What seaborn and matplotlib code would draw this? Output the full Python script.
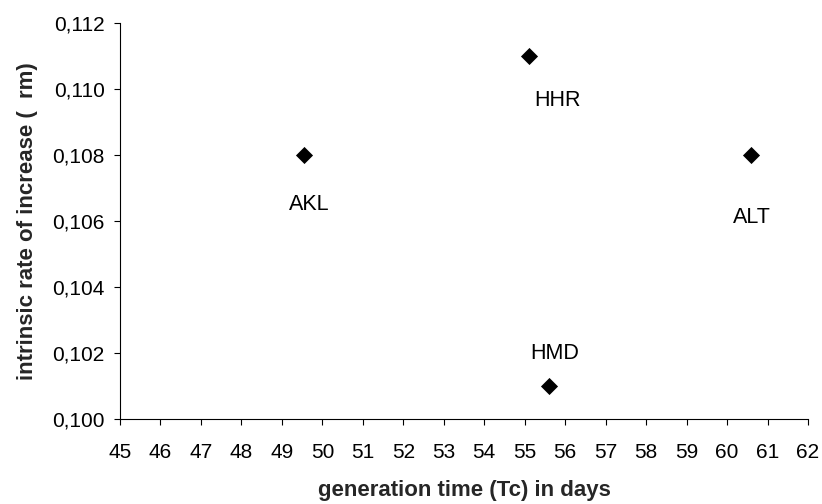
import matplotlib
matplotlib.use("Agg")
import matplotlib.pyplot as plt
import seaborn as sns
import pandas as pd
from matplotlib.ticker import FuncFormatter

populations = ["AKL", "HHR", "ALT", "HMD"]
generation_time = [49.55, 55.1, 60.6, 55.6]
rm = [0.108, 0.111, 0.108, 0.101]
x_ticks = list(range(45, 63))
y_ticks = [0.100, 0.102, 0.104, 0.106, 0.108, 0.110, 0.112]

sns.set_style("ticks")
plt.rcParams["font.family"] = ["Liberation Sans", "DejaVu Sans"]

df = pd.DataFrame({"pop": populations, "Tc": generation_time, "rm": rm})

fig = plt.figure(figsize=(8.22, 5.04), dpi=100)
ax = fig.add_axes([0.1460, 0.1687, 0.8370, 0.7853])

sns.scatterplot(data=df, x="Tc", y="rm", marker="D", s=76, color="black",
                linewidth=0, ax=ax, legend=False)

# label offsets in points (as placed in the reference), baseline anchored
offsets = {"AKL": (4, -39.5), "HHR": (21, -36), "ALT": (0.5, -49), "HMD": (4.3, 19.5)}
for p, x, y in zip(populations, generation_time, rm):
    dx, dy = offsets[p]
    ax.annotate(p, (x, y), xytext=(dx, dy), textcoords="offset points",
                ha="center", va="baseline", fontsize=15.5, color="black")

ax.set_xlim(45, 62)
ax.set_ylim(0.100, 0.112)
ax.set_xticks(x_ticks)
ax.set_yticks(y_ticks)
ax.yaxis.set_major_formatter(FuncFormatter(lambda v, _: f"{v:.3f}".replace(".", ",")))
ax.tick_params(axis="both", labelsize=15, length=4, width=0.8, color="black",
               labelcolor="black")
ax.tick_params(axis="x", pad=13)
ax.tick_params(axis="y", pad=7)

for side in ["top", "right"]:
    ax.spines[side].set_visible(False)
for side in ["left", "bottom"]:
    ax.spines[side].set_color("black")
    ax.spines[side].set_linewidth(0.8)

ax.set_xlabel("generation time (Tc) in days", fontsize=16, fontweight="bold",
              labelpad=13)
ax.set_ylabel("intrinsic rate of increase (  rm)", fontsize=16,
              fontweight="bold", labelpad=10)

fig.savefig("out.png", dpi=100)
